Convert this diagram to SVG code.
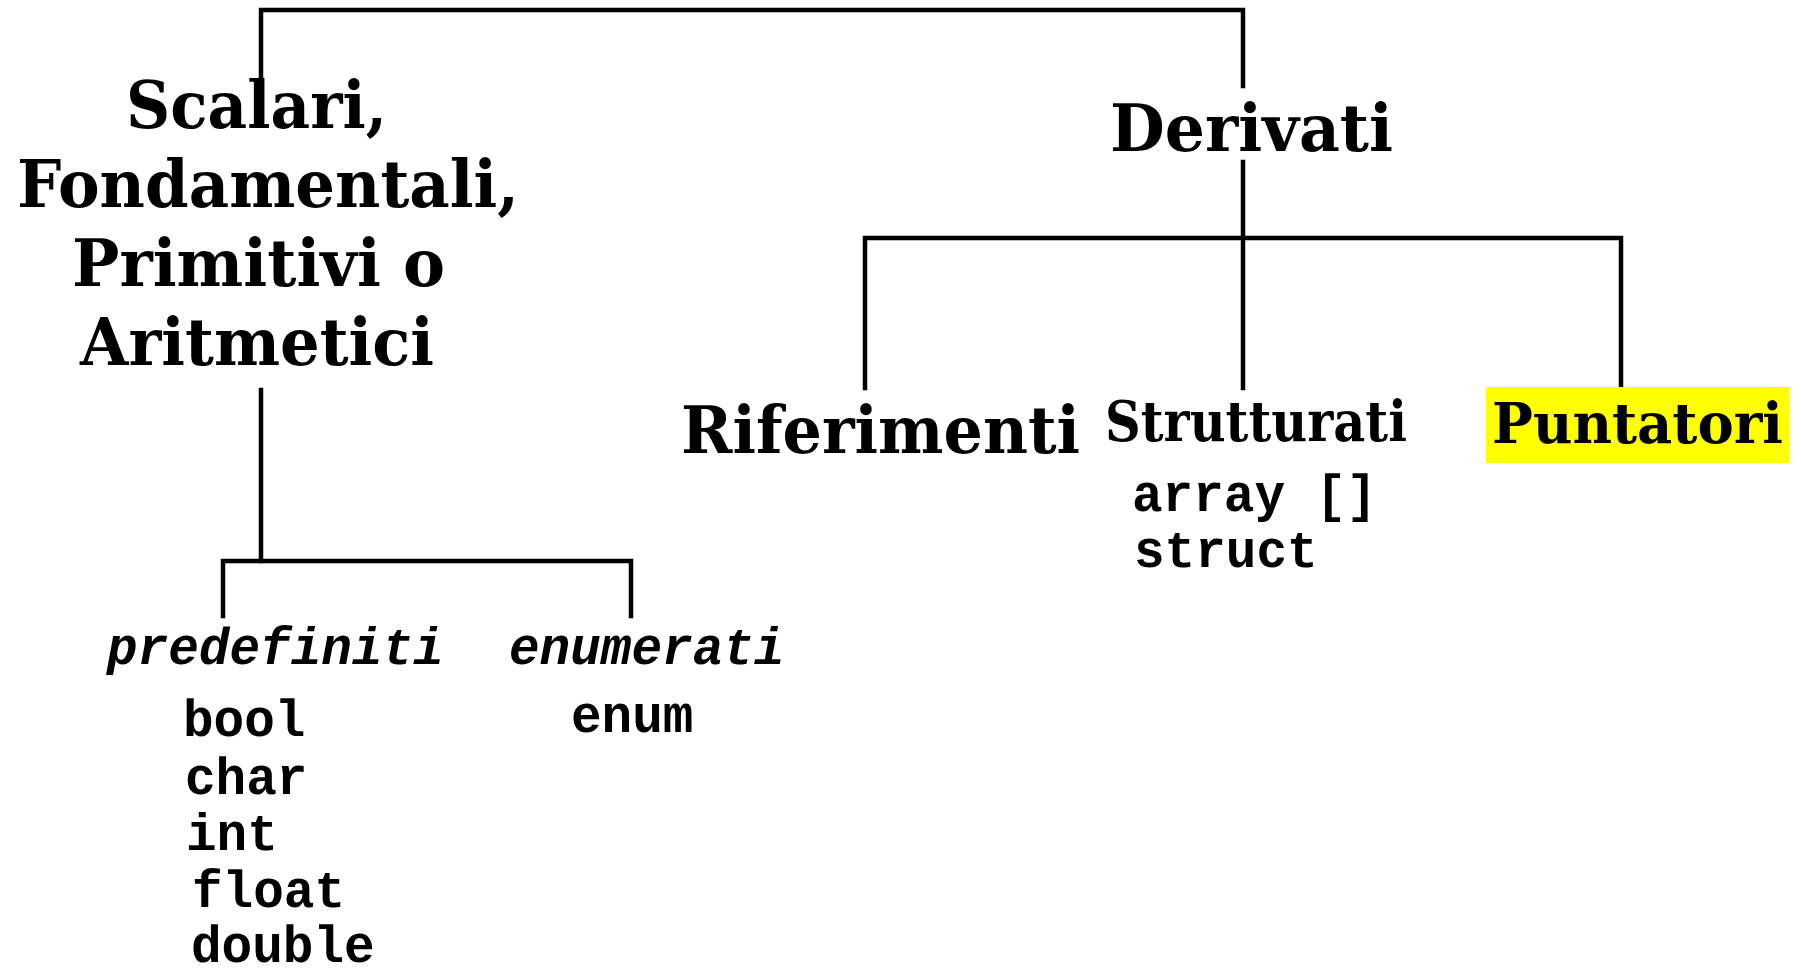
<svg xmlns="http://www.w3.org/2000/svg" width="1801" height="971" viewBox="0 0 1801 971">
<style>
.big{font-family:"DejaVu Serif","Liberation Serif",serif;font-weight:bold;font-size:66px;fill:#000}
.mid{font-family:"DejaVu Serif","Liberation Serif",serif;font-weight:bold;font-size:56px;fill:#000}
.mono{font-family:"Liberation Mono","Courier New",monospace;font-weight:bold;font-size:51px;fill:#000}
.monoi{font-family:"Liberation Mono","Courier New",monospace;font-weight:bold;font-style:italic;font-size:51px;fill:#000}
.ln{stroke:#000;stroke-width:4.5;fill:none;stroke-linecap:square}
</style>
<rect width="1801" height="971" fill="#fff"/>
<g id="connectors">
<path class="ln" d="M261 86 V10 H1243 V86"/>
<path class="ln" d="M1243 162 V388"/>
<path class="ln" d="M865 388 V238 H1621 V388"/>
<path class="ln" d="M261 390 V561"/>
<path class="ln" d="M223 616 V561 H631 V616"/>
</g>
<g id="scalari">
<text class="big" x="126" y="128" textLength="261" lengthAdjust="spacingAndGlyphs">Scalari,</text>
<text class="big" x="17" y="207" textLength="502" lengthAdjust="spacingAndGlyphs">Fondamentali,</text>
<text class="big" x="72" y="286" textLength="373" lengthAdjust="spacingAndGlyphs">Primitivi o</text>
<text class="big" x="80" y="365" textLength="354" lengthAdjust="spacingAndGlyphs">Aritmetici</text>
</g>
<g id="derivati">
<text class="big" x="1110" y="151" textLength="283" lengthAdjust="spacingAndGlyphs">Derivati</text>
</g>
<g id="riferimenti">
<text class="big" x="681" y="453" textLength="399" lengthAdjust="spacingAndGlyphs">Riferimenti</text>
</g>
<g id="strutturati">
<text class="mid" x="1105" y="441" textLength="302" lengthAdjust="spacingAndGlyphs">Strutturati</text>
<text class="mono" x="1132" y="511">array []</text>
<text class="mono" x="1134" y="567">struct</text>
</g>
<g id="puntatori">
<rect x="1486" y="387" width="303" height="76" fill="#ffff00"/>
<text class="mid" x="1492" y="443" textLength="291" lengthAdjust="spacingAndGlyphs">Puntatori</text>
</g>
<g id="predefiniti">
<text class="monoi" x="107" y="664">predefiniti</text>
<text class="mono" x="183" y="736">bool</text>
<text class="mono" x="185" y="794">char</text>
<text class="mono" x="186" y="850">int</text>
<text class="mono" x="192" y="907">float</text>
<text class="mono" x="191" y="962">double</text>
</g>
<g id="enumerati">
<text class="monoi" x="509" y="664">enumerati</text>
<text class="mono" x="571" y="732">enum</text>
</g>
</svg>
